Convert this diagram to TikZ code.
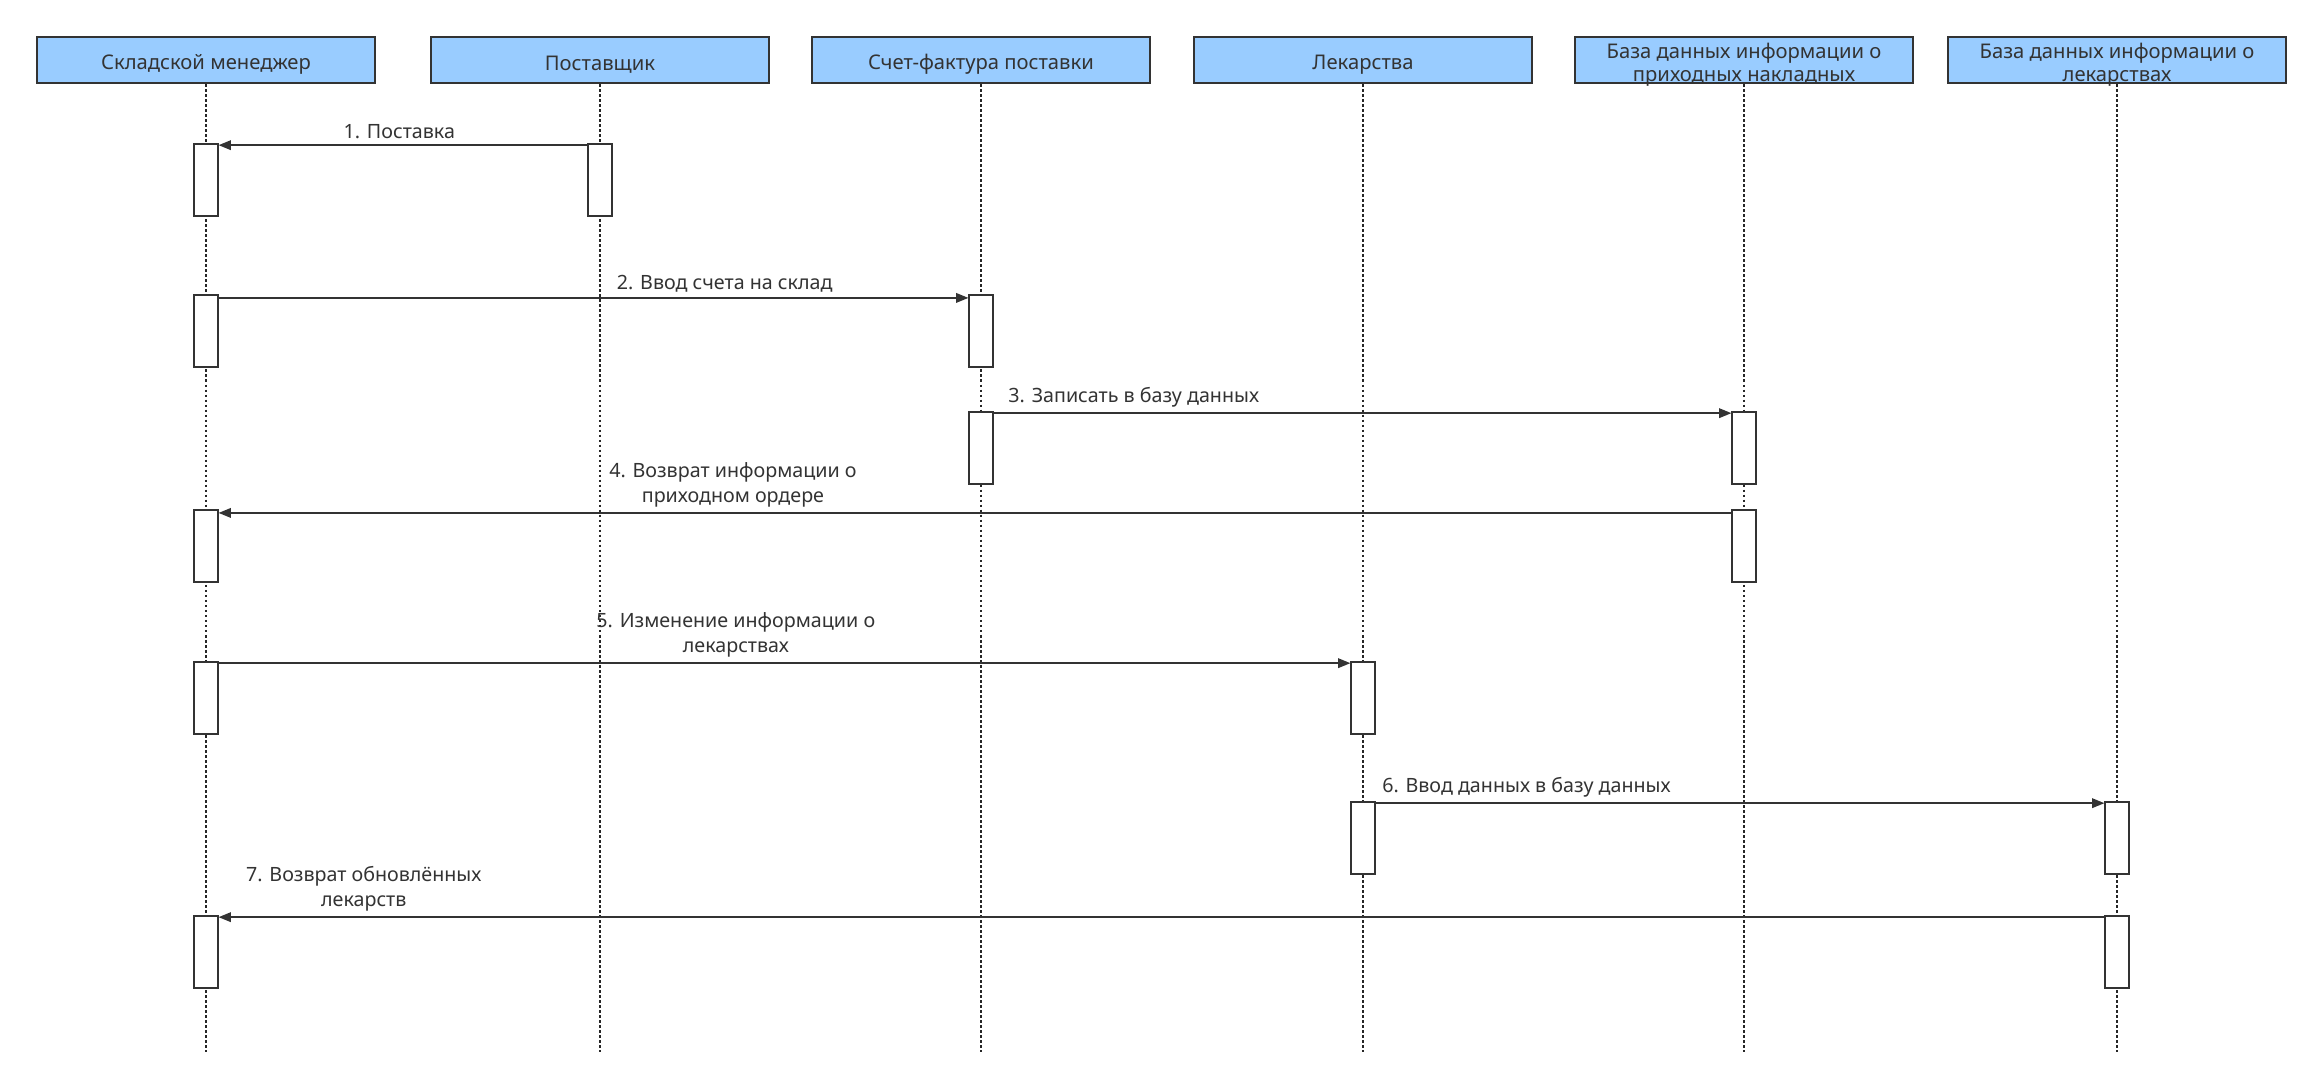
\documentclass[tikz,border=0pt]{standalone}
\usepackage{fontspec}
\setmainfont{Noto Sans}
\usetikzlibrary{arrows.meta, positioning}
\definecolor{hdrblue}{HTML}{99CCFF}
\definecolor{ink}{HTML}{333333}

\begin{document}
\begin{tikzpicture}[x=0.02cm, y=-0.02cm,
      hdr/.style={draw=ink, rectangle, line width=1.2pt, fill=hdrblue,
                  minimum width=6.76cm, minimum height=0.92cm, inner sep=0pt},
      hdrtext/.style={align=center, font=\fontsize{11.5}{13}\selectfont, text=ink,
                      yshift=-2.6pt},
      act/.style={draw=ink, rectangle, line width=0.7pt, fill=white,
                  minimum width=0.48cm, minimum height=1.44cm, inner sep=0pt},
      life/.style={draw=black!85, line width=1.5pt, dash pattern=on 1.5pt off 1.35pt},
      msg/.style={-{Triangle[length=7pt, width=5.5pt]}, draw=ink, line width=0.8pt},
      lbl/.style={font=\fontsize{11.2}{14.2}\selectfont, text=ink, align=center,
                  above, inner sep=3pt}
    ]
    \useasboundingbox (0,0) rectangle (2323,1090);

    % participants
    \node[hdr, label={[hdrtext]center:Складской менеджер}]    (mgr)   at (206, 60)  {};
    \node[hdr, label={[hdrtext]center:Поставщик}]             (sup)   at (600, 60)  {};
    \node[hdr, label={[hdrtext]center:Счет-фактура поставки}] (inv)   at (981, 60)  {};
    \node[hdr, label={[hdrtext]center:Лекарства}]             (med)   at (1363, 60) {};
    \node[hdr, label={[hdrtext]center:База данных информации о\\приходных накладных}] (dbin)  at (1744, 60) {};
    \node[hdr, label={[hdrtext]center:База данных информации о\\лекарствах}]          (dbmed) at (2117, 60) {};

    % lifelines
    \coordinate (bottom) at (0, 1052);
    \draw[life] (mgr)   -- (mgr |- bottom);
    \draw[life] (sup)   -- (sup |- bottom);
    \draw[life] (inv)   -- (inv |- bottom);
    \draw[life] (med)   -- (med |- bottom);
    \draw[life] (dbin)  -- (dbin |- bottom);
    \draw[life] (dbmed) -- (dbmed |- bottom);

    % activations
    \node[act] (mgr1)   at (206, 180)  {};
    \node[act] (sup1)   at (600, 180)  {};
    \node[act] (mgr2)   at (206, 331)  {};
    \node[act] (inv1)   at (981, 331)  {};
    \node[act] (inv2)   at (981, 448)  {};
    \node[act] (dbin1)  at (1744, 448) {};
    \node[act] (mgr3)   at (206, 546)  {};
    \node[act] (dbin2)  at (1744, 546) {};
    \node[act] (mgr4)   at (206, 698)  {};
    \node[act] (med1)   at (1363, 698) {};
    \node[act] (med2)   at (1363, 838) {};
    \node[act] (dbmed1) at (2117, 838) {};
    \node[act] (mgr5)   at (206, 952)  {};
    \node[act] (dbmed2) at (2117, 952) {};

    % messages
    \draw[msg] ([yshift=-1pt]sup1.north west) -- node[lbl, pos=0.51]{1. Поставка} ([yshift=-1pt]mgr1.north east);
    \draw[msg] ([yshift=-2pt]mgr2.north east) -- node[lbl, pos=0.675]{2. Ввод счета на склад} ([yshift=-2pt]inv1.north west);
    \draw[msg] ([yshift=-1pt]inv2.north east) -- node[lbl, pos=0.19]{3. Записать в базу данных} ([yshift=-1pt]dbin1.north west);
    \draw[msg] ([yshift=-2pt]dbin2.north west) -- node[lbl, pos=0.66]{4. Возврат информации о\\приходном ордере} ([yshift=-2pt]mgr3.north east);
    \draw[msg] ([yshift=-1pt]mgr4.north east) -- node[lbl, pos=0.457]{5. Изменение информации о\\лекарствах} ([yshift=-1pt]med1.north west);
    \draw[msg] ([yshift=-1pt]med2.north east) -- node[lbl, pos=0.207]{6. Ввод данных в базу данных} ([yshift=-1pt]dbmed1.north west);
    \draw[msg] ([yshift=-1pt]dbmed2.north west) -- node[lbl, pos=0.923]{7. Возврат обновлённых\\лекарств} ([yshift=-1pt]mgr5.north east);
  \end{tikzpicture}
\end{document}
